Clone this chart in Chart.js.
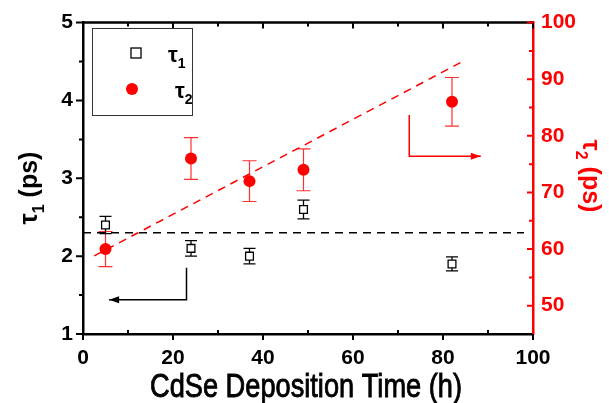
<!DOCTYPE html>
<html>
<head>
<meta charset="utf-8">
<script src="https://cdn.jsdelivr.net/npm/chart.js@4.4.0/dist/chart.umd.min.js"></script>
<style>
  html, body { margin: 0; padding: 0; background: #fff; }
  #wrap { width: 609px; height: 403px; }
</style>
</head>
<body>
<div id="wrap"><canvas id="myChart" width="609" height="403"></canvas></div>
<script>
// data
var hours = [5, 24, 37, 49, 82];
var tau1 = [2.40, 2.10, 2.00, 2.60, 1.90];
var tau1Err = [0.11, 0.10, 0.10, 0.12, 0.09];
var tau2 = [60, 76, 72, 74, 86];
var tau2Err = [3.1, 3.7, 3.6, 3.7, 4.3];

var fit1X = [0, 98];
var fit1Y = [2.3, 2.3];
var fit2X = [2.5, 85];
var fit2Y = [58.8, 93.4];

var arrow1X = [23, 23, 5.8];
var arrow1Y = [1.85, 1.44, 1.44];
var arrow2X = [72.5, 72.5, 88.4];
var arrow2Y = [83.7, 76.4, 76.4];

var xTicks = [0, 20, 40, 60, 80, 100];
var xMinor = [10, 30, 50, 70, 90];
var yTicks = [1, 2, 3, 4, 5];
var yMinor = [1.5, 2.5, 3.5, 4.5];
var y2Ticks = [50, 60, 70, 80, 90, 100];
var y2Minor = [55, 65, 75, 85, 95];

var RED = '#ff0000';
var FONT = '"Liberation Sans", Arial, sans-serif';

function pts(xs, ys) {
    return xs.map(function(x, i) { return {x: x, y: ys[i]}; });
}

function subText(ctx, x, y, base, sub, rest, size) {
    // base + subscript + rest, left aligned on baseline y
    ctx.font = 'bold ' + size + 'px ' + FONT;
    ctx.fillText(base, x, y);
    var w = ctx.measureText(base).width;
    ctx.font = 'bold ' + Math.round(size * 0.65) + 'px ' + FONT;
    ctx.fillText(sub, x + w, y + size * 0.28);
    var w2 = ctx.measureText(sub).width;
    if (rest) {
        ctx.font = 'bold ' + size + 'px ' + FONT;
        ctx.fillText(rest, x + w + w2, y);
    }
}

function subWidth(ctx, base, sub, rest, size) {
    ctx.font = 'bold ' + size + 'px ' + FONT;
    var w = ctx.measureText(base).width + ctx.measureText(rest).width;
    ctx.font = 'bold ' + Math.round(size * 0.65) + 'px ' + FONT;
    return w + ctx.measureText(sub).width;
}

var errorBars = {
    id: 'errorBars',
    beforeDatasetsDraw: function(chart) {
        var ctx = chart.ctx, xs = chart.scales.x, y1 = chart.scales.y, y2 = chart.scales.y2;
        ctx.save();
        ctx.strokeStyle = '#ff3030';
        ctx.lineWidth = 1.2;
        hours.forEach(function(h, i) {
            var px = xs.getPixelForValue(h);
            var t = y2.getPixelForValue(tau2[i] + tau2Err[i]);
            var b = y2.getPixelForValue(tau2[i] - tau2Err[i]);
            ctx.beginPath();
            ctx.moveTo(px, t); ctx.lineTo(px, b);
            ctx.moveTo(px - 7, t); ctx.lineTo(px + 7, t);
            ctx.moveTo(px - 7, b); ctx.lineTo(px + 7, b);
            ctx.stroke();
        });
        ctx.strokeStyle = '#000';
        ctx.lineWidth = 1.3;
        hours.forEach(function(h, i) {
            var px = xs.getPixelForValue(h);
            var t = y1.getPixelForValue(tau1[i] + tau1Err[i]);
            var b = y1.getPixelForValue(tau1[i] - tau1Err[i]);
            ctx.beginPath();
            ctx.moveTo(px, t); ctx.lineTo(px, b);
            ctx.moveTo(px - 6, t); ctx.lineTo(px + 6, t);
            ctx.moveTo(px - 6, b); ctx.lineTo(px + 6, b);
            ctx.stroke();
        });
        ctx.restore();
    }
};

var frame = {
    id: 'frame',
    afterDraw: function(chart) {
        var ctx = chart.ctx, a = chart.chartArea;
        var xs = chart.scales.x, y1 = chart.scales.y, y2 = chart.scales.y2;
        ctx.save();

        // arrow heads
        function head(px, py, dir, color) {
            ctx.fillStyle = color;
            ctx.beginPath();
            ctx.moveTo(px, py);
            ctx.lineTo(px - dir * 10, py - 3.5);
            ctx.lineTo(px - dir * 10, py + 3.5);
            ctx.closePath();
            ctx.fill();
        }
        head(xs.getPixelForValue(arrow1X[2]), y1.getPixelForValue(arrow1Y[2]), -1, '#000');
        head(xs.getPixelForValue(arrow2X[2]), y2.getPixelForValue(arrow2Y[2]), 1, RED);

        // top frame line
        ctx.strokeStyle = '#000';
        ctx.lineWidth = 2.5;
        ctx.beginPath();
        ctx.moveTo(a.left, a.top); ctx.lineTo(a.right, a.top);
        ctx.stroke();

        // ticks
        ctx.lineWidth = 2;
        ctx.beginPath();
        xTicks.forEach(function(v) {
            var p = xs.getPixelForValue(v);
            ctx.moveTo(p, a.bottom); ctx.lineTo(p, a.bottom + 6);
            ctx.moveTo(p, a.top); ctx.lineTo(p, a.top + 6);
        });
        xMinor.forEach(function(v) {
            var p = xs.getPixelForValue(v);
            ctx.moveTo(p, a.bottom); ctx.lineTo(p, a.bottom - 4);
            ctx.moveTo(p, a.top); ctx.lineTo(p, a.top + 4);
        });
        yTicks.forEach(function(v) {
            var p = y1.getPixelForValue(v);
            ctx.moveTo(a.left, p); ctx.lineTo(a.left - 7, p);
        });
        yMinor.forEach(function(v) {
            var p = y1.getPixelForValue(v);
            ctx.moveTo(a.left, p); ctx.lineTo(a.left - 4, p);
        });
        ctx.stroke();

        ctx.strokeStyle = RED;
        ctx.beginPath();
        y2Ticks.forEach(function(v) {
            var p = y2.getPixelForValue(v);
            ctx.moveTo(a.right, p); ctx.lineTo(a.right - 6, p);
        });
        y2Minor.forEach(function(v) {
            var p = y2.getPixelForValue(v);
            ctx.moveTo(a.right, p); ctx.lineTo(a.right - 4, p);
        });
        ctx.stroke();

        // axis titles
        ctx.textBaseline = 'alphabetic';
        ctx.textAlign = 'left';
        var w1 = subWidth(ctx, '\u03c4', '1', ' (ps)', 25);
        ctx.save();
        ctx.translate(37, 188);
        ctx.rotate(-Math.PI / 2);
        ctx.fillStyle = '#000';
        subText(ctx, -w1 / 2, 0, '\u03c4', '1', ' (ps)', 25);
        ctx.restore();

        var w2 = subWidth(ctx, '\u03c4', '2', ' (ps)', 25);
        ctx.save();
        ctx.translate(583, 176);
        ctx.rotate(Math.PI / 2);
        ctx.fillStyle = RED;
        subText(ctx, -w2 / 2, 0, '\u03c4', '2', ' (ps)', 25);
        ctx.restore();

        // x title: tall narrow face, squeezed to the width seen in the figure
        var xt = 'CdSe Deposition Time (h)';
        ctx.fillStyle = '#000';
        ctx.strokeStyle = '#000';
        ctx.lineWidth = 0.9;
        ctx.font = '34px ' + FONT;
        var tw = ctx.measureText(xt).width;
        ctx.save();
        ctx.translate(306, 397);
        ctx.scale(312 / tw, 1);
        ctx.textAlign = 'center';
        ctx.fillText(xt, 0, 0);
        ctx.strokeText(xt, 0, 0);
        ctx.restore();

        // legend
        ctx.textAlign = 'left';
        ctx.strokeStyle = '#333';
        ctx.lineWidth = 1;
        ctx.strokeRect(92.5, 28.5, 100, 87);
        ctx.lineWidth = 1.3;
        ctx.strokeStyle = '#000';
        ctx.fillStyle = '#fff';
        ctx.fillRect(131, 48, 10, 10);
        ctx.strokeRect(131, 48, 10, 10);
        ctx.fillStyle = RED;
        ctx.beginPath();
        ctx.arc(132, 89, 6, 0, Math.PI * 2);
        ctx.fill();
        ctx.fillStyle = '#000';
        subText(ctx, 168, 62, '\u03c4', '1', '', 22);
        subText(ctx, 175, 98, '\u03c4', '2', '', 22);

        ctx.restore();
    }
};

var ctx = document.getElementById('myChart');
new Chart(ctx, {
    type: 'scatter',
    data: {
        datasets: [
            {
                label: 'fit1', data: pts(fit1X, fit1Y), yAxisID: 'y', showLine: true,
                borderColor: '#000', borderWidth: 1.5, borderDash: [8, 6], pointRadius: 0
            },
            {
                label: 'fit2', data: pts(fit2X, fit2Y), yAxisID: 'y2', showLine: true,
                borderColor: RED, borderWidth: 1.5, borderDash: [8, 6], pointRadius: 0
            },
            {
                label: 'arrow1', data: pts(arrow1X, arrow1Y), yAxisID: 'y', showLine: true,
                borderColor: '#000', borderWidth: 1.5, pointRadius: 0
            },
            {
                label: 'arrow2', data: pts(arrow2X, arrow2Y), yAxisID: 'y2', showLine: true,
                borderColor: RED, borderWidth: 1.5, pointRadius: 0
            },
            {
                label: 'tau1', data: pts(hours, tau1), yAxisID: 'y',
                pointStyle: 'rect', pointRadius: 5.5, backgroundColor: '#fff',
                borderColor: '#000', borderWidth: 1.3
            },
            {
                label: 'tau2', data: pts(hours, tau2), yAxisID: 'y2',
                pointStyle: 'circle', pointRadius: 6, backgroundColor: RED,
                borderColor: RED, borderWidth: 0
            }
        ]
    },
    options: {
        responsive: false,
        animation: false,
        layout: { padding: { top: 19, left: 0, right: 0, bottom: 0 } },
        plugins: { legend: { display: false }, tooltip: { enabled: false } },
        scales: {
            x: {
                type: 'linear', min: 0, max: 100,
                afterBuildTicks: function(s) { s.ticks = xTicks.map(function(v) { return {value: v}; }); },
                afterFit: function(s) { s.height = 69; },
                grid: { display: false, drawTicks: false },
                border: { display: true, color: '#000', width: 2.5 },
                ticks: { color: '#000', padding: 12, maxRotation: 0, font: { family: FONT, size: 21, weight: 'bold' } }
            },
            y: {
                type: 'linear', position: 'left', min: 1, max: 5,
                afterBuildTicks: function(s) { s.ticks = yTicks.map(function(v) { return {value: v}; }); },
                afterFit: function(s) { s.width = 83; },
                grid: { display: false, drawTicks: false },
                border: { display: true, color: '#000', width: 2.5 },
                ticks: { color: '#000', padding: 10, font: { family: FONT, size: 21, weight: 'bold' } }
            },
            y2: {
                type: 'linear', position: 'right', min: 45, max: 100,
                afterBuildTicks: function(s) { s.ticks = y2Ticks.map(function(v) { return {value: v}; }); },
                afterFit: function(s) { s.width = 76; },
                grid: { display: false, drawTicks: false },
                border: { display: true, color: RED, width: 2.5 },
                ticks: { color: RED, padding: 8, font: { family: FONT, size: 21, weight: 'bold' } }
            }
        }
    },
    plugins: [errorBars, frame]
});
</script>
</body>
</html>
